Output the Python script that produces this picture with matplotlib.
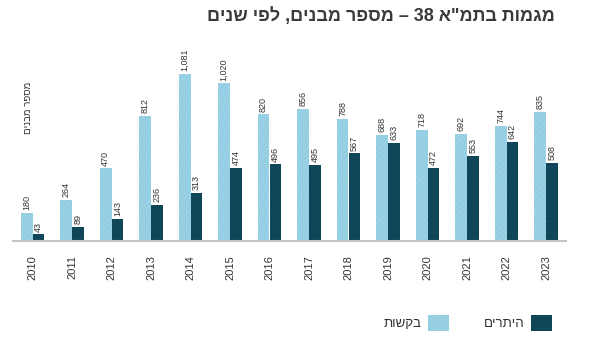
import re
import numpy as np
import matplotlib
matplotlib.use('Agg')
import matplotlib.pyplot as plt

plt.rcParams['font.family'] = ['Liberation Sans', 'DejaVu Sans']
plt.rcParams['hatch.linewidth'] = 0.4

# data
years = ['2010', '2011', '2012', '2013', '2014', '2015', '2016',
         '2017', '2018', '2019', '2020', '2021', '2022', '2023']
requests_ = [180, 264, 470, 812, 1081, 1020, 820, 856, 788, 688, 718, 692, 744, 835]
permits = [43, 89, 143, 236, 313, 474, 496, 495, 567, 633, 472, 553, 642, 508]

title = 'מגמות בתמ"א 38 – מספר מבנים, לפי שנים'
ylabel = 'מספר מבנים'
lbl_req = 'בקשות'
lbl_perm = 'היתרים'


def heb(s):
    # matplotlib has no bidi: flip the string, keep digit runs in order
    r = s[::-1]
    return re.sub(r'[0-9][0-9,.]*', lambda m: m.group(0)[::-1], r)


light = '#93cee2'
dark = '#0f4558'
txt = '#333333'

fig = plt.figure(figsize=(6.05, 3.58), dpi=100)
W, H = 605, 358
ax = fig.add_axes([12.75 / W, 117 / H, 553 / W, 185.4 / H])

x = np.arange(len(years))
w = 0.3
b1 = ax.bar(x - w / 2, requests_, width=w, color=light, edgecolor='#a9d9ea',
            linewidth=0, hatch='//////', label=heb(lbl_req))
b2 = ax.bar(x + w / 2, permits, width=w, color=dark, edgecolor='#174e62',
            linewidth=0, hatch='....', label=heb(lbl_perm))

for bars, vals in ((b1, requests_), (b2, permits)):
    for r, v in zip(bars, vals):
        ax.annotate(f'{v:,}', (r.get_x() + r.get_width() / 2, r.get_height()),
                    xytext=(0, 2), textcoords='offset points', rotation=90,
                    ha='center', va='bottom', fontsize=6.5, color=txt)

ax.set_xlim(-0.5, len(years) - 0.5)
ax.set_ylim(0, 1200)
ax.set_xticks(x)
ax.set_xticklabels(years, rotation=90, fontsize=8, color=txt)
ax.tick_params(axis='x', length=0, pad=10)
ax.set_yticks([])
for s in ['top', 'right', 'left']:
    ax.spines[s].set_visible(False)
ax.spines['bottom'].set_color('#c4c4c4')
ax.spines['bottom'].set_linewidth(1.5)

fig.text(28 / W, 1 - 108 / H, heb(ylabel), rotation=90, ha='center',
         va='center', fontsize=7, color=txt)

fig.text(555 / W, 1 - 16 / H, heb(title), ha='right', va='center',
         fontsize=13, fontweight='bold', color='#3a3a3a')

fig.legend(handles=[b1, b2], loc='center right',
           bbox_to_anchor=(552 / W, 1 - 323 / H), ncol=2, frameon=False,
           markerfirst=False, fontsize=9.5, handlelength=1.6, handleheight=1.4,
           handletextpad=0.5, columnspacing=2.6, labelcolor=txt,
           borderaxespad=0, borderpad=0)

plt.savefig('out.png', dpi=100)
plt.close('all')
